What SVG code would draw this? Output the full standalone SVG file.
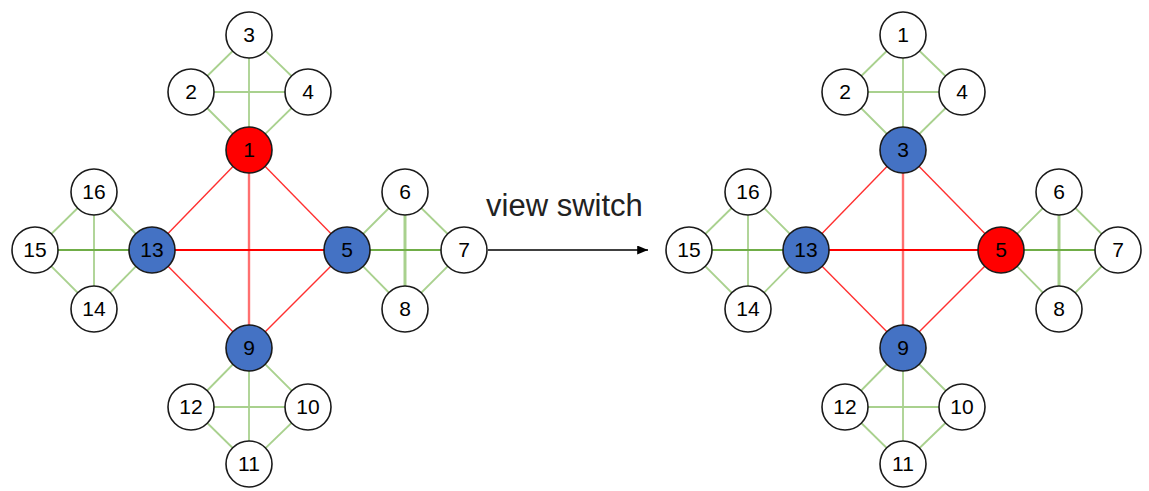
<svg xmlns="http://www.w3.org/2000/svg" width="1149" height="491" viewBox="0 0 1149 491">
  <style>
    .n circle { stroke: #1a1a1a; stroke-width: 1.6; fill: #ffffff; }
    .n.blue circle { fill: #4472c4; }
    .n.red circle { fill: #ff0000; }
    .n text { font-family: "Liberation Sans", Arial, sans-serif; font-size: 21px; fill: #000; text-anchor: middle; }
    .g { stroke: #a9d18e; stroke-width: 1.8; fill: none; }
    .gd { stroke: #70ad47; stroke-width: 2; fill: none; }
    .gt { stroke: #a9d18e; stroke-width: 3; fill: none; }
    .r { stroke: #ff3030; stroke-width: 1.4; fill: none; }
    .rs { stroke: #ff0000; stroke-width: 2; fill: none; }
    .rv { stroke: #ff7070; stroke-width: 2.4; fill: none; }
    .lbl { font-family: "Liberation Sans", Arial, sans-serif; font-size: 31px; fill: #222; }
  </style>
  <defs>
    <marker id="arrowhead" viewBox="0 0 12 10" refX="12" refY="5" markerWidth="12" markerHeight="9" markerUnits="userSpaceOnUse" orient="auto">
      <path d="M0,0 L12,5 L0,10 z" fill="#000"/>
    </marker>
  </defs>
  <rect width="1149" height="491" fill="#ffffff"/>

  <!-- left graph: connectors -->
  <g id="connectors-left">
    <!-- top cluster -->
    <line class="g" x1="249" y1="35" x2="191" y2="92"/>
    <line class="g" x1="249" y1="35" x2="308" y2="92"/>
    <line class="g" x1="249" y1="35" x2="249" y2="150"/>
    <line class="g" x1="191" y1="92" x2="308" y2="92"/>
    <line class="g" x1="191" y1="92" x2="249" y2="150"/>
    <line class="g" x1="308" y1="92" x2="249" y2="150"/>
    <!-- left cluster -->
    <line class="g" x1="94" y1="192" x2="35" y2="250"/>
    <line class="g" x1="94" y1="192" x2="152" y2="250"/>
    <line class="g" x1="94" y1="192" x2="94" y2="309"/>
    <line class="gd" x1="35" y1="250" x2="152" y2="250"/>
    <line class="g" x1="35" y1="250" x2="94" y2="309"/>
    <line class="g" x1="94" y1="309" x2="152" y2="250"/>
    <!-- right cluster -->
    <line class="g" x1="405" y1="192" x2="347" y2="250"/>
    <line class="g" x1="405" y1="192" x2="464" y2="250"/>
    <line class="gt" x1="405" y1="192" x2="405" y2="309"/>
    <line class="gd" x1="347" y1="250" x2="464" y2="250"/>
    <line class="g" x1="347" y1="250" x2="405" y2="309"/>
    <line class="g" x1="405" y1="309" x2="464" y2="250"/>
    <!-- bottom cluster -->
    <line class="g" x1="249" y1="348" x2="191" y2="407"/>
    <line class="g" x1="249" y1="348" x2="308" y2="407"/>
    <line class="g" x1="249" y1="348" x2="249" y2="464"/>
    <line class="g" x1="191" y1="407" x2="308" y2="407"/>
    <line class="g" x1="191" y1="407" x2="249" y2="464"/>
    <line class="g" x1="308" y1="407" x2="249" y2="464"/>
    <!-- core -->
    <line class="r" x1="249" y1="150" x2="152" y2="250"/>
    <line class="r" x1="249" y1="150" x2="347" y2="250"/>
    <line class="rv" x1="249" y1="150" x2="249" y2="348"/>
    <line class="rs" x1="152" y1="250" x2="347" y2="250"/>
    <line class="r" x1="152" y1="250" x2="249" y2="348"/>
    <line class="r" x1="347" y1="250" x2="249" y2="348"/>
  </g>

  <!-- right graph: connectors -->
  <g id="connectors-right">
    <line class="g" x1="903" y1="35" x2="845" y2="92"/>
    <line class="g" x1="903" y1="35" x2="962" y2="92"/>
    <line class="g" x1="903" y1="35" x2="903" y2="150"/>
    <line class="g" x1="845" y1="92" x2="962" y2="92"/>
    <line class="g" x1="845" y1="92" x2="903" y2="150"/>
    <line class="g" x1="962" y1="92" x2="903" y2="150"/>

    <line class="g" x1="748" y1="192" x2="689" y2="250"/>
    <line class="g" x1="748" y1="192" x2="806" y2="250"/>
    <line class="g" x1="748" y1="192" x2="748" y2="309"/>
    <line class="gd" x1="689" y1="250" x2="806" y2="250"/>
    <line class="g" x1="689" y1="250" x2="748" y2="309"/>
    <line class="g" x1="748" y1="309" x2="806" y2="250"/>

    <line class="g" x1="1059" y1="192" x2="1001" y2="250"/>
    <line class="g" x1="1059" y1="192" x2="1118" y2="250"/>
    <line class="gt" x1="1059" y1="192" x2="1059" y2="309"/>
    <line class="gd" x1="1001" y1="250" x2="1118" y2="250"/>
    <line class="g" x1="1001" y1="250" x2="1059" y2="309"/>
    <line class="g" x1="1059" y1="309" x2="1118" y2="250"/>

    <line class="g" x1="903" y1="348" x2="845" y2="407"/>
    <line class="g" x1="903" y1="348" x2="962" y2="407"/>
    <line class="g" x1="903" y1="348" x2="903" y2="464"/>
    <line class="g" x1="845" y1="407" x2="962" y2="407"/>
    <line class="g" x1="845" y1="407" x2="903" y2="464"/>
    <line class="g" x1="962" y1="407" x2="903" y2="464"/>

    <line class="r" x1="903" y1="150" x2="806" y2="250"/>
    <line class="r" x1="903" y1="150" x2="1001" y2="250"/>
    <line class="rv" x1="903" y1="150" x2="903" y2="348"/>
    <line class="rs" x1="806" y1="250" x2="1001" y2="250"/>
    <line class="r" x1="806" y1="250" x2="903" y2="348"/>
    <line class="r" x1="1001" y1="250" x2="903" y2="348"/>
  </g>

  <!-- view switch arrow -->
  <g id="switch-arrow">
    <line x1="488" y1="250" x2="648" y2="250" stroke="#000" stroke-width="1.6" marker-end="url(#arrowhead)"/>
    <text class="lbl" x="486" y="216">view switch</text>
  </g>

  <!-- left graph: nodes -->
  <g id="L3" class="n"><circle cx="249" cy="35" r="23"/><text x="249" y="42">3</text></g>
  <g id="L2" class="n"><circle cx="191" cy="92" r="23"/><text x="191" y="99">2</text></g>
  <g id="L4" class="n"><circle cx="308" cy="92" r="23"/><text x="308" y="99">4</text></g>
  <g id="L1" class="n red"><circle cx="249" cy="150" r="23"/><text x="249" y="157">1</text></g>
  <g id="L16" class="n"><circle cx="94" cy="192" r="23"/><text x="94" y="199">16</text></g>
  <g id="L15" class="n"><circle cx="35" cy="250" r="23"/><text x="35" y="257">15</text></g>
  <g id="L13" class="n blue"><circle cx="152" cy="250" r="23"/><text x="152" y="257">13</text></g>
  <g id="L14" class="n"><circle cx="94" cy="309" r="23"/><text x="94" y="316">14</text></g>
  <g id="L6" class="n"><circle cx="405" cy="192" r="23"/><text x="405" y="199">6</text></g>
  <g id="L5" class="n blue"><circle cx="347" cy="250" r="23"/><text x="347" y="257">5</text></g>
  <g id="L7" class="n"><circle cx="464" cy="250" r="23"/><text x="464" y="257">7</text></g>
  <g id="L8" class="n"><circle cx="405" cy="309" r="23"/><text x="405" y="316">8</text></g>
  <g id="L9" class="n blue"><circle cx="249" cy="348" r="23"/><text x="249" y="355">9</text></g>
  <g id="L12" class="n"><circle cx="191" cy="407" r="23"/><text x="191" y="414">12</text></g>
  <g id="L10" class="n"><circle cx="308" cy="407" r="23"/><text x="308" y="414">10</text></g>
  <g id="L11" class="n"><circle cx="249" cy="464" r="23"/><text x="249" y="471">11</text></g>

  <!-- right graph: nodes -->
  <g id="R1" class="n"><circle cx="903" cy="35" r="23"/><text x="903" y="42">1</text></g>
  <g id="R2" class="n"><circle cx="845" cy="92" r="23"/><text x="845" y="99">2</text></g>
  <g id="R4" class="n"><circle cx="962" cy="92" r="23"/><text x="962" y="99">4</text></g>
  <g id="R3" class="n blue"><circle cx="903" cy="150" r="23"/><text x="903" y="157">3</text></g>
  <g id="R16" class="n"><circle cx="748" cy="192" r="23"/><text x="748" y="199">16</text></g>
  <g id="R15" class="n"><circle cx="689" cy="250" r="23"/><text x="689" y="257">15</text></g>
  <g id="R13" class="n blue"><circle cx="806" cy="250" r="23"/><text x="806" y="257">13</text></g>
  <g id="R14" class="n"><circle cx="748" cy="309" r="23"/><text x="748" y="316">14</text></g>
  <g id="R6" class="n"><circle cx="1059" cy="192" r="23"/><text x="1059" y="199">6</text></g>
  <g id="R5" class="n red"><circle cx="1001" cy="250" r="23"/><text x="1001" y="257">5</text></g>
  <g id="R7" class="n"><circle cx="1118" cy="250" r="23"/><text x="1118" y="257">7</text></g>
  <g id="R8" class="n"><circle cx="1059" cy="309" r="23"/><text x="1059" y="316">8</text></g>
  <g id="R9" class="n blue"><circle cx="903" cy="348" r="23"/><text x="903" y="355">9</text></g>
  <g id="R12" class="n"><circle cx="845" cy="407" r="23"/><text x="845" y="414">12</text></g>
  <g id="R10" class="n"><circle cx="962" cy="407" r="23"/><text x="962" y="414">10</text></g>
  <g id="R11" class="n"><circle cx="903" cy="464" r="23"/><text x="903" y="471">11</text></g>
</svg>
